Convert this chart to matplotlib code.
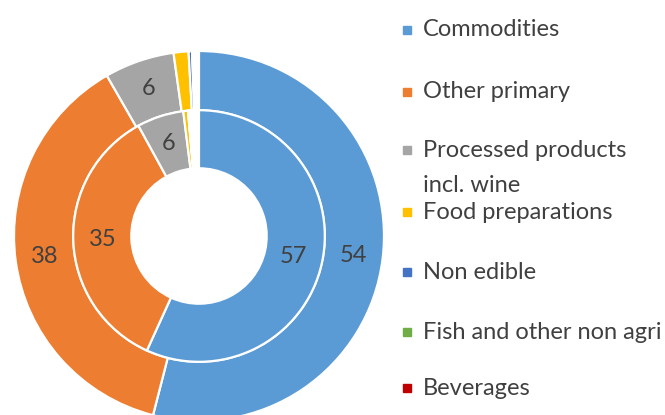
import numpy as np
import matplotlib
matplotlib.use("Agg")
import matplotlib.pyplot as plt

categories = ["Commodities", "Other primary", "Processed products\nincl. wine",
              "Food preparations", "Non edible", "Fish and other non agri", "Beverages"]
outer_values = [54.0, 37.7, 6.1, 1.3, 0.3, 0.05, 0.05]
inner_values = [56.8, 35.2, 6.0, 0.6, 0.05, 0.05, 0.05]
colors = ["#5B9BD5", "#ED7D31", "#A5A5A5", "#FFC000", "#4472C4", "#70AD47", "#C00000"]

plt.rcParams['font.family'] = ['Lato', 'DejaVu Sans']
W, H = 665, 415
fig = plt.figure(figsize=(W / 100, H / 100), dpi=100)

cx, cy, R = 199, 415 - 236, 185
ax = fig.add_axes([(cx - R) / W, (cy - R) / H, 2 * R / W, 2 * R / H])
ax.set_aspect('equal')
ax.axis('off')

r_outer, r_mid, r_hole = 1.0, 0.68, 0.366
text_color = "#404040"

def ring(values, radius, width):
    wedges, _ = ax.pie(np.array(values) / 100.0, radius=radius, colors=colors,
                       startangle=90, counterclock=False, normalize=False,
                       wedgeprops=dict(width=width, edgecolor='white', linewidth=1.6))
    rl = radius - width / 2
    for w, v in zip(wedges, values):
        if v >= 5:
            ang = np.deg2rad((w.theta1 + w.theta2) / 2)
            ax.text(rl * np.cos(ang), rl * np.sin(ang), f"{v:.0f}", ha='center',
                    va='center', fontsize=17, color=text_color)

ring(outer_values, r_outer, r_outer - r_mid)
ring(inner_values, r_mid, r_mid - r_hole)
ax.set_xlim(-1, 1)
ax.set_ylim(-1, 1)

# legend
rows_y = [30, 92, 150, 212, 272, 332, 388]
line_gap = 35
for lab, col, y in zip(categories, colors, rows_y):
    fig.patches.append(plt.Rectangle((403 / W, (H - y - 4) / H), 8 / W, 8 / H,
                                     transform=fig.transFigure, color=col))
    for k, line in enumerate(lab.split("\n")):
        fig.text(423 / W, (H - y - k * line_gap) / H, line, ha='left', va='center',
                 fontsize=17, color=text_color)

fig.savefig("out.png", dpi=100)
